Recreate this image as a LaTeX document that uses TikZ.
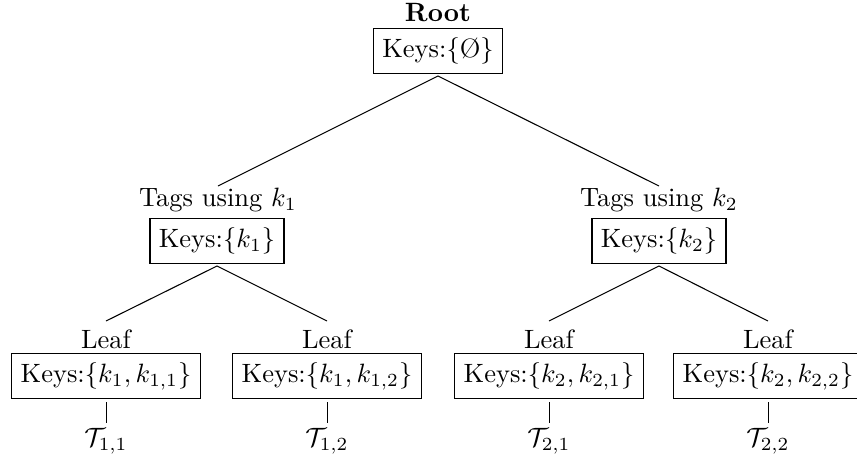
\documentclass[tikz,border=0pt]{standalone}
\begin{document}
\begin{tikzpicture}[x=0.3774pt,y=-0.3774pt,
  keybox/.style={draw,line width=0.4pt,inner sep=3.33pt},
  tag/.style={inner sep=0pt},
  edge/.style={line width=0.4pt}]
\useasboundingbox (0,0) rectangle (857,459);

% root
\node[tag,font=\bfseries] (rootlbl) at (438,13) {Root};
\node[keybox] (root) at (438,51) {Keys:\{\O\}};
\coordinate (rootfoot) at (438,76);

% first level
\node[tag] (t1) at (218,200) {Tags using $k_1$};
\node[keybox] (k1) at (217,241) {Keys:\{$k_1$\}};
\coordinate (t1top) at (218,186);
\coordinate (k1foot) at (217,266);

\node[tag] (t2) at (659,200) {Tags using $k_2$};
\node[keybox] (k2) at (659,241) {Keys:\{$k_2$\}};
\coordinate (t2top) at (659,186);
\coordinate (k2foot) at (659,266);

% leaves, each with its tag set hanging below
\foreach \n/\x/\a/\b in {a/106/1/1, b/327/1/2, c/549/2/1, d/768/2/2}{
  \node[tag] (lf\n) at (\x,339) {Leaf};
  \node[keybox] (lk\n) at (\x,376) {Keys:\{$k_{\a}, k_{\a,\b}$\}};
  \coordinate (lt\n) at (\x,321);
  \coordinate (lh\n) at (\x+0.5,402);
  \coordinate (ls\n) at (\x+0.5,423);
  \node[tag] (tt\n) at (\x,441) {$\mathcal{T}_{\a,\b}$};
  \draw[edge] (lh\n) -- (ls\n);
}

% connectors
\draw[edge] (t1top) -- (rootfoot) -- (t2top);
\draw[edge] (lta) -- (k1foot) -- (ltb);
\draw[edge] (ltc) -- (k2foot) -- (ltd);
\end{tikzpicture}
\end{document}
